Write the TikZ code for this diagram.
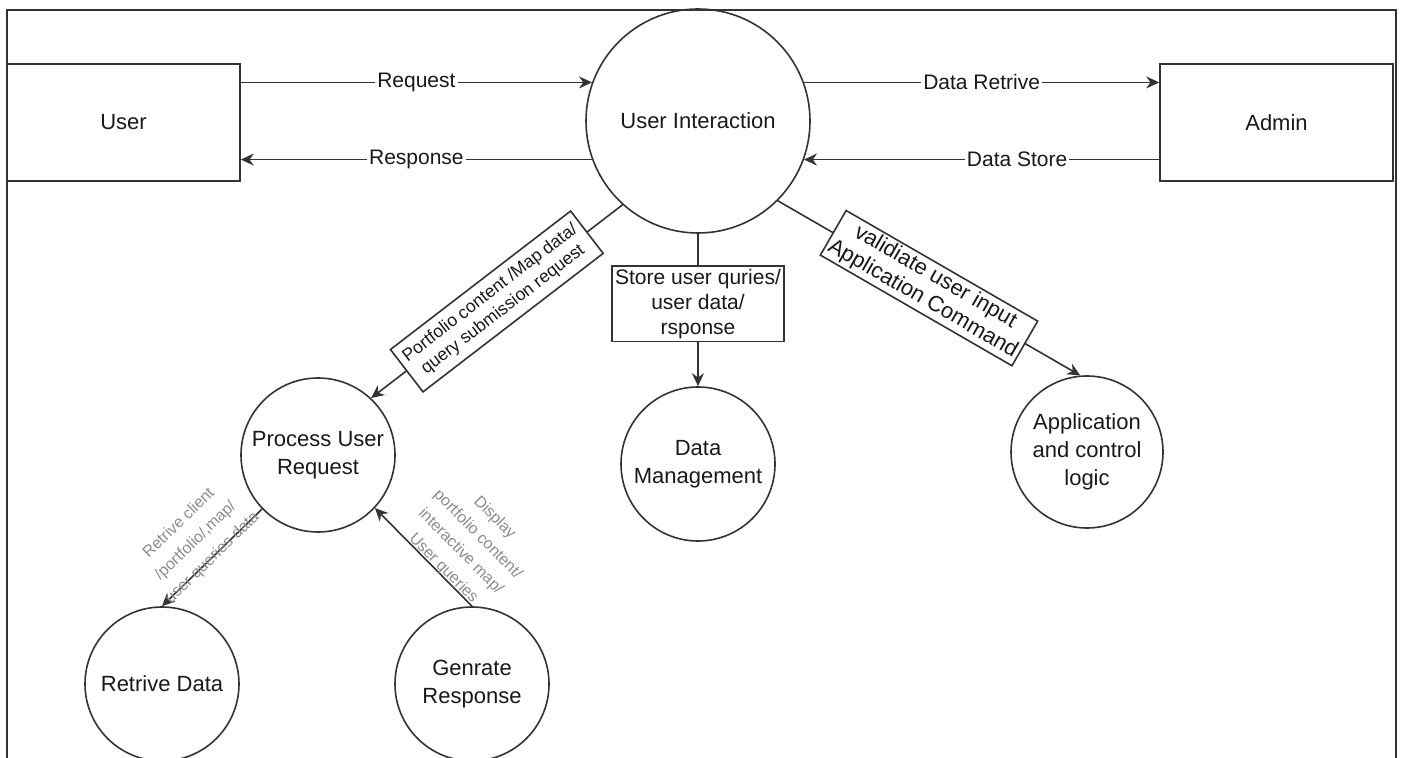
\documentclass[tikz,border=0pt]{standalone}
\usepackage{fontspec}
\setmainfont{Liberation Sans}
\usetikzlibrary{arrows.meta}

\begin{document}
\begin{tikzpicture}[x=0.5pt,y=-0.5pt]

			\tikzstyle{entity}=[draw=black!80,line width=0.8pt,
				minimum width=116.5pt,minimum height=58.5pt,
				text=black!90,font=\fontsize{11}{14}\selectfont]
			\tikzstyle{process}=[circle,draw=black!80,line width=0.8pt,
				inner sep=0pt,minimum size=77pt,align=center,
				text=black!90,font=\fontsize{11}{14}\selectfont]
			\tikzstyle{flow}=[draw=black!80,line width=0.8pt,
				-{Stealth[length=6.5pt,width=6pt]}]
			\tikzstyle{flowlabel}=[fill=white,inner sep=1pt,
				text=black!90,font=\fontsize{10.5}{12}\selectfont]
			\tikzstyle{boxlabel}=[draw=black!80,fill=white,line width=0.8pt,
				inner sep=1.5pt,align=center,text=black!90]
			\tikzstyle{notelabel}=[text=black!45,inner sep=1pt,
				align=center,font=\fontsize{8}{12}\selectfont]

			\useasboundingbox (0,0) rectangle (1401,758);
			\draw[black!80,line width=0.8pt] (7,758) -- (7,10) -- (1396,10) -- (1396,758);

			\node[entity]	(user)	at (123.5,122.5)	{User};
			\node[entity]	(admin)	at (1276.5,122.5)	{Admin};
			\node[process,minimum size=112pt]	(ui)	at (698,121)	{User Interaction};
			\node[process]	(pur)	at (318,455)	{Process User\\Request};
			\node[process]	(dm)	at (698,464)	{Data\\Management};
			\node[process,minimum size=76pt]	(acl)	at (1087,452)	{Application\\and control\\logic};
			\node[process]	(rd)	at (162,684)	{Retrive Data};
			\node[process]	(gr)	at (472,684)	{Genrate\\Response};

			\draw[flow] (user.east |- ui.160) -- node[flowlabel] {Request} (ui.160);
			\draw[flow] (ui.200) -- node[flowlabel] {Response} (user.east |- ui.200);
			\draw[flow] (ui.20) -- node[flowlabel] {Data Retrive} (admin.west |- ui.20);
			\draw[flow] (admin.west |- ui.340) -- node[flowlabel,pos=0.4] {Data Store} (ui.340);

			\draw[flow] (ui.228) -- node[boxlabel,sloped,inner xsep=3pt,inner ysep=4pt,
				font=\fontsize{8.8}{10.5}\selectfont]
				{Portfolio content /Map data/\\query submission request} (pur.47);
			\draw[flow] (ui.south) -- node[boxlabel,pos=0.46,font=\fontsize{10.5}{12.5}\selectfont]
				{Store user quries/\\user data/\\rsponse} (dm.north);
			\draw[flow] (ui.315) -- node[boxlabel,sloped,font=\fontsize{11}{12.5}\selectfont]
				{validiate user input\\Application Command} (acl.95);

			\draw[flow] (pur.224) -- node[notelabel,sloped,above=-5.5pt]
				{Retrive client\\/portfolio/,map/\\user queries data} (rd.north);
			\draw[flow] (gr.north) -- node[notelabel,sloped,pos=0.34,above=-2pt]
				{Display\\portfolio content/\\interactive map/\\User queries} (pur.317);

\end{tikzpicture}
\end{document}
